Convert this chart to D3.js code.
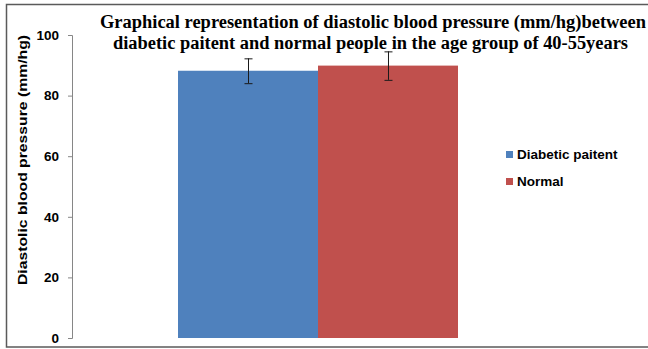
<!DOCTYPE html>
<html>
<head>
<meta charset="utf-8">
<script src="https://cdn.jsdelivr.net/npm/d3@7"></script>
<style>
  html, body { margin: 0; padding: 0; background: #fff; }
  svg { display: block; }
</style>
</head>
<body>
<div id="chart"></div>
<script>
// ---- data ----
const categories = ["40-55 years"];
const seriesNames = ["Diabetic paitent", "Normal"];
const seriesValues = [88.2, 89.9];
const seriesErrors = [4.1, 4.7];
const seriesColors = ["#4F81BD", "#C0504D"];
const yTicks = [0, 20, 40, 60, 80, 100];
const titleLines = [
  "Graphical representation of diastolic blood pressure (mm/hg)between",
  "diabetic paitent and normal people in the age group of 40-55years"
];
const yLabel = "Diastolic blood pressure (mm/hg)";

// ---- layout ----
const W = 648, H = 349;
const plot = { left: 72, right: 564, top: 35, bottom: 338 };

const svg = d3.select("#chart").append("svg")
  .attr("width", W).attr("height", H);

svg.append("rect").attr("width", W).attr("height", H).attr("fill", "#fff");

// outer chart border
svg.append("rect")
  .attr("x", 6.5).attr("y", 4.5)
  .attr("width", 646).attr("height", 342.5)
  .attr("fill", "none").attr("stroke", "#5a5a5a").attr("stroke-width", 1.5);

const y = d3.scaleLinear().domain([0, 100]).range([plot.bottom, plot.top]);
const x0 = d3.scaleBand().domain(categories)
  .range([plot.left, plot.right]).paddingInner(0).paddingOuter(0.3786);
const x1 = d3.scaleBand().domain(seriesNames)
  .range([0, x0.bandwidth()]).padding(0);

// y axis
const yAxis = d3.axisLeft(y).tickValues(yTicks).tickSize(4).tickPadding(9)
  .tickFormat(d3.format("d"));
const gy = svg.append("g").attr("transform", `translate(${plot.left},0)`).call(yAxis);
gy.select(".domain").attr("stroke", "#868686").attr("d", `M-4,${plot.top + 0.5}H0.5V${plot.bottom + 0.5}H-4`);
gy.selectAll(".tick line").attr("stroke", "#868686");
gy.selectAll(".tick text")
  .attr("font-family", "'Liberation Sans', Arial, sans-serif")
  .attr("font-weight", "bold").attr("font-size", 13.5).attr("fill", "#000");

// bars
const g = svg.append("g").attr("transform", `translate(${x0(categories[0])},0)`);
const rows = seriesNames.map((name, i) => ({
  name, value: seriesValues[i], err: seriesErrors[i], color: seriesColors[i]
}));
g.selectAll("rect.bar").data(rows).enter().append("rect")
  .attr("class", "bar")
  .attr("x", d => x1(d.name))
  .attr("width", x1.bandwidth())
  .attr("y", d => y(d.value))
  .attr("height", d => y(0) - y(d.value))
  .attr("fill", d => d.color);

// error bars
const eb = g.selectAll("g.err").data(rows).enter().append("g").attr("class", "err")
  .attr("stroke", "#1a1a1a").attr("stroke-width", 1);
eb.append("line")
  .attr("x1", d => x1(d.name) + x1.bandwidth() / 2 + 0.5)
  .attr("x2", d => x1(d.name) + x1.bandwidth() / 2 + 0.5)
  .attr("y1", d => y(d.value + d.err)).attr("y2", d => y(d.value - d.err));
eb.append("line")
  .attr("x1", d => x1(d.name) + x1.bandwidth() / 2 - 3.5)
  .attr("x2", d => x1(d.name) + x1.bandwidth() / 2 + 4.5)
  .attr("y1", d => y(d.value + d.err) + 0.5).attr("y2", d => y(d.value + d.err) + 0.5);
eb.append("line")
  .attr("x1", d => x1(d.name) + x1.bandwidth() / 2 - 3.5)
  .attr("x2", d => x1(d.name) + x1.bandwidth() / 2 + 4.5)
  .attr("y1", d => y(d.value - d.err) + 0.5).attr("y2", d => y(d.value - d.err) + 0.5);

// title
const titleG = svg.append("g")
  .attr("font-family", "'Liberation Serif', 'Times New Roman', serif")
  .attr("font-weight", "bold").attr("font-size", 18).attr("fill", "#000");
const titlePos = [{ x: 100, y: 28, len: 546 }, { x: 113, y: 49, len: 515 }];
titleLines.forEach((t, i) => {
  titleG.append("text").attr("x", titlePos[i].x).attr("y", titlePos[i].y)
    .attr("textLength", titlePos[i].len).attr("lengthAdjust", "spacingAndGlyphs")
    .text(t);
});

// y label
svg.append("text")
  .attr("transform", "translate(26.5,160) rotate(-90)")
  .attr("text-anchor", "middle")
  .attr("font-family", "'Liberation Sans', Arial, sans-serif")
  .attr("font-weight", "bold").attr("font-size", 12.5).attr("fill", "#000")
  .attr("textLength", 250).attr("lengthAdjust", "spacingAndGlyphs")
  .text(yLabel);

// legend
const lg = svg.append("g").attr("transform", "translate(506,151)");
const li = lg.selectAll("g").data(rows).enter().append("g")
  .attr("transform", (d, i) => `translate(0,${i * 27})`);
li.append("rect").attr("width", 7).attr("height", 7).attr("fill", d => d.color);
li.append("text").attr("x", 11).attr("y", 7.5)
  .attr("font-family", "'Liberation Sans', Arial, sans-serif")
  .attr("font-weight", "bold").attr("font-size", 13.5).attr("fill", "#000")
  .text(d => d.name);
</script>
</body>
</html>
